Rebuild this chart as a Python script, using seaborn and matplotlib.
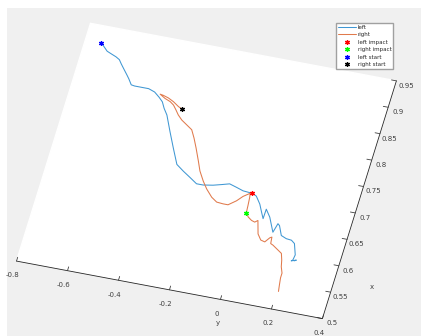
import matplotlib
matplotlib.use("Agg")
import matplotlib.pyplot as plt
from matplotlib.patches import Rectangle
import numpy as np
import seaborn as sns

# trajectories (x, y)
left_x = [0.917, 0.912, 0.904, 0.900, 0.897, 0.893, 0.886, 0.878, 0.868, 0.862,
          0.852, 0.851, 0.851, 0.851, 0.847, 0.839, 0.832, 0.821, 0.810, 0.781,
          0.753, 0.725, 0.715, 0.706, 0.697, 0.697, 0.700, 0.704, 0.708, 0.704,
          0.700, 0.699, 0.699, 0.695, 0.682, 0.668, 0.657, 0.675, 0.662, 0.636,
          0.653, 0.650, 0.633, 0.629, 0.628, 0.623, 0.603, 0.593, 0.591, 0.594,
          0.592]
left_y = [-0.737, -0.724, -0.705, -0.683, -0.666, -0.650, -0.638, -0.623, -0.604, -0.593,
          -0.577, -0.563, -0.534, -0.508, -0.482, -0.459, -0.442, -0.428, -0.410, -0.379,
          -0.348, -0.316, -0.284, -0.252, -0.221, -0.195, -0.158, -0.127, -0.098, -0.068,
          -0.040, -0.013, -0.003, 0.015, 0.037, 0.053, 0.066, 0.067, 0.089, 0.118,
          0.127, 0.135, 0.153, 0.175, 0.196, 0.211, 0.227, 0.224, 0.219, 0.237,
          0.230]

right_x = [0.826, 0.829, 0.836, 0.841, 0.844, 0.845, 0.839, 0.835, 0.830, 0.822,
           0.814, 0.806, 0.799, 0.792, 0.778, 0.761, 0.738, 0.721, 0.704, 0.691,
           0.678, 0.671, 0.670, 0.670, 0.680, 0.690, 0.698, 0.690, 0.675, 0.662,
           0.655, 0.650, 0.648, 0.652, 0.640, 0.628, 0.618, 0.616, 0.625, 0.627,
           0.615, 0.613, 0.606, 0.601, 0.589, 0.577, 0.566, 0.557, 0.544, 0.532]
right_y = [-0.363, -0.377, -0.401, -0.424, -0.446, -0.459, -0.436, -0.413, -0.397, -0.382,
           -0.368, -0.349, -0.325, -0.301, -0.283, -0.264, -0.240, -0.223, -0.199, -0.177,
           -0.149, -0.125, -0.099, -0.080, -0.053, -0.034, -0.011, -0.008, -0.005, -0.003,
           0.009, 0.025, 0.039, 0.049, 0.057, 0.065, 0.082, 0.099, 0.113, 0.120,
           0.123, 0.133, 0.157, 0.174, 0.183, 0.189, 0.199, 0.199, 0.203, 0.207]

left_impact = (0.699, -0.003)
right_impact = (0.662, -0.003)
left_start = (left_x[0], left_y[0])
right_start = (right_x[0], right_y[0])

x_ticks = [0.5, 0.55, 0.6, 0.65, 0.7, 0.75, 0.8, 0.85, 0.9, 0.95]
y_ticks = [-0.8, -0.6, -0.4, -0.2, 0, 0.2, 0.4]

sns.set_theme(style="white")
plt.rcParams["font.family"] = ["DejaVu Sans"]

fig = plt.figure(figsize=(4.21, 3.36), dpi=100)
fig.patch.set_facecolor("white")
# matlab-style grey window area
fig.patches.append(Rectangle((7 / 421, 0), 1, 1 - 8 / 336, transform=fig.transFigure,
                             facecolor="#f0f0f0", edgecolor="none", zorder=-10))

ax = fig.add_axes([-0.0204, -0.0194, 1, 1], projection="3d", proj_type="ortho")
ax.set_facecolor((0, 0, 0, 0))
# seen from above with x running "up", so the x axis is flipped
ax.view_init(elev=51, azim=13.6, roll=0)
ax.set_box_aspect((1, 1, 0.01), zoom=1.286)

blue, orange = "#3f97d3", "#e07a4c"
z_l = np.zeros(len(left_x))
z_r = np.zeros(len(right_x))
mk = dict(marker=(6, 2, 0), ms=3.5, mew=0.9, ls="none")
ax.plot(left_x, left_y, z_l, color=blue, lw=0.75, label="left")
ax.plot(right_x, right_y, z_r, color=orange, lw=0.75, label="right")
ax.plot([left_impact[0]], [left_impact[1]], [0], color="red", label="left impact", **mk)
ax.plot([right_impact[0]], [right_impact[1]], [0], color="#00ff00", label="right impact", **mk)
ax.plot([left_start[0]], [left_start[1]], [0], color="blue", label="left start", **mk)
ax.plot([right_start[0]], [right_start[1]], [0], color="black", label="right start", **mk)

ax.set_xlim(0.95, 0.5)
ax.set_ylim(-0.8, 0.4)
ax.set_zlim(-1, 1)
ax.set_xticks(x_ticks)
ax.set_xticklabels([f"{t:g}" for t in x_ticks])
ax.set_yticks(y_ticks)
ax.set_yticklabels([f"{t:g}" for t in y_ticks])
ax.set_zticks([])
ax.tick_params(labelsize=5, colors="#404040")
ax.xaxis.set_tick_params(pad=-4)
ax.yaxis.set_tick_params(pad=-2)
ax.grid(False)
for axis in (ax.xaxis, ax.yaxis):
    axis.line.set_color("#262626")
    axis.line.set_linewidth(0.6)
    axis._axinfo["tick"]["inward_factor"] = 0.0
    axis._axinfo["tick"]["outward_factor"] = 0.2
    axis._axinfo["tick"]["linewidth"] = {True: 0.6, False: 0.5}
    axis._axinfo["tick"]["color"] = "#262626"
for axis in (ax.xaxis, ax.yaxis, ax.zaxis):
    axis.label.set_visible(False)
    axis.get_offset_text().set_visible(False)

# axis names placed where matlab put them
ax.text(0.456, 0.0175, 0, "y", fontsize=5, color="#404040", ha="center", va="center")
ax.text(0.571, 0.55, 0, "x", fontsize=5, color="#404040", ha="center", va="center")

ax.xaxis.set_pane_color((1, 1, 1, 0))
ax.yaxis.set_pane_color((1, 1, 1, 0))
ax.zaxis.set_pane_color((1, 1, 1, 1))
ax.zaxis.line.set_color((0, 0, 0, 0))

fig.legend(loc="upper right", bbox_to_anchor=(0.934, 0.932), borderaxespad=0, fontsize=4,
           frameon=True, fancybox=False, edgecolor="#a0a0a0", framealpha=1,
           handlelength=3.2, handletextpad=0.4, borderpad=0.3, labelspacing=0.45)

fig.savefig("out.png", dpi=100)
